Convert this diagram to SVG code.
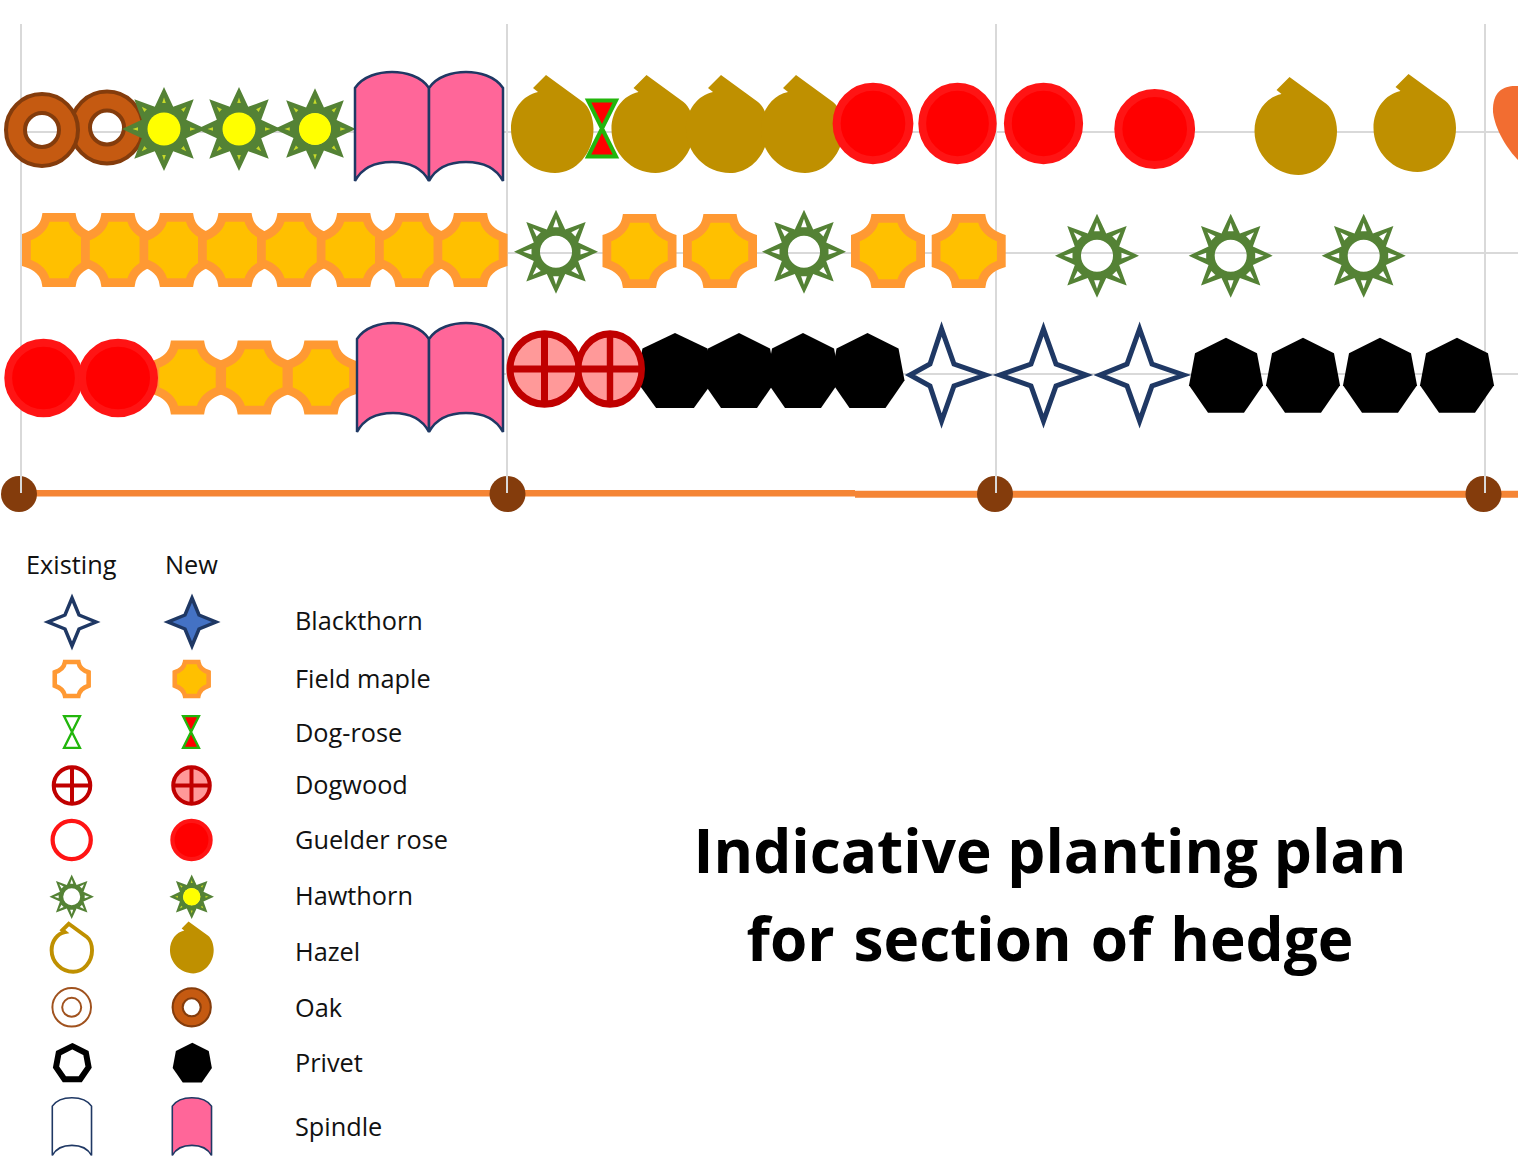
<svg xmlns="http://www.w3.org/2000/svg" width="1518" height="1162" viewBox="0 0 1518 1162">
<style>
.grid{stroke:#D9D9D9;stroke-width:2;fill:none}
.fence{stroke:#F58535;fill:none}
.post{fill:#843C0C}
.t{font-family:"Open Sans","Noto Sans","Liberation Sans",sans-serif;font-size:25.3px;fill:#111}
.title{font-family:"Open Sans","Noto Sans","Liberation Sans",sans-serif;font-size:60.3px;font-weight:700;fill:#000;text-anchor:middle}
.maple{stroke:#FF9933;stroke-width:8.8;stroke-miterlimit:10}
.mn{fill:#FFC000}.me{fill:none}
.spin{stroke:#1F3864;stroke-width:2.5;stroke-linejoin:miter}
.sn{fill:#FF6699}.se{fill:#fff}
.rose{stroke:#22B60C;stroke-width:4;stroke-miterlimit:10}
.rn{fill:#FF0000}.re{fill:none}
.wood{stroke:#C00000;stroke-width:7}
.wn{fill:#FF9999}.we{fill:none}
.guel{stroke:#FF1414;stroke-width:8}
.gn{fill:#FF0000}.ge{fill:none}
.hazn{fill:#BF9000}.haze{fill:none;stroke:#BF9000;stroke-width:8}
.oak{fill:#C55A11;stroke:#843C0C;stroke-width:4;fill-rule:evenodd}
.pn{fill:#000}.pe{fill:none;stroke:#000;stroke-width:13.5}
.blk{stroke:#1F3864;stroke-width:5;fill:none;stroke-miterlimit:10}
.blkn{fill:#4472C4}
.haw{fill:#548235;fill-rule:evenodd}
</style>
<defs>
<path id="maple" d="M-12.9,-32.6H12.9C15,-21 23,-16 32.6,-12.9V12.9C23,16 15,21 12.9,32.6H-12.9C-15,21 -23,16 -32.6,12.9V-12.9C-23,-16 -15,-21 -12.9,-32.6Z"/>
<path id="spindle" d="M0,16C8,4 24,0 37,0C50,0 66,4 74,16L74,109C66,94 50,90 37,90C24,90 8,94 0,109Z"/>
<path id="hourglass" d="M-14,-28H14L-14,28H14Z"/>
<g id="dogwood"><circle r="34.5"/><path d="M-34,0H34M0,-34V34" fill="none"/></g>
<circle id="guelder" r="36"/>
<path id="hazel" d="M-6,-57L31,-30C37,-25.6 41.5,-14 41.5,-3C41.5,21 24,41 3,41C-21,41 -41,21 -41,-3C-41,-22 -29,-37 -14,-40L-19,-44Z"/>
<path id="oakring" d="M-36,0A36,36 0 1 0 36,0A36,36 0 1 0 -36,0ZM-17,0A17,17 0 1 0 17,0A17,17 0 1 0 -17,0Z"/>
<path id="heptagon" d="M0,-37.5L31,-22L37,10L18,37.5L-18,37.5L-37,10L-31,-22Z"/>
<path id="star4" d="M0,-24L7,-7L24,0L7,7L0,24L-7,7L-24,0L-7,-7Z"/>
<path id="star8" d="M0,-42L9.2,-22.2L29.7,-29.7L22.2,-9.2L42,0L22.2,9.2L29.7,29.7L9.2,22.2L0,42L-9.2,22.2L-29.7,29.7L-22.2,9.2L-42,0L-22.2,-9.2L-29.7,-29.7L-9.2,-22.2ZM-16,0A16,16 0 1 0 16,0A16,16 0 1 0 -16,0Z"/>
<path id="triE" d="M0,-33L2.9,-24.5L-2.9,-24.5Z"/>
<path id="triN" d="M0,-31.5L1.8,-26L-1.8,-26Z"/>
<g id="hawE"><use href="#star8" class="haw"/><g fill="#fff"><use href="#triE"/><use href="#triE" transform="rotate(45)"/><use href="#triE" transform="rotate(90)"/><use href="#triE" transform="rotate(135)"/><use href="#triE" transform="rotate(180)"/><use href="#triE" transform="rotate(225)"/><use href="#triE" transform="rotate(270)"/><use href="#triE" transform="rotate(315)"/></g></g>
<g id="hawN"><use href="#star8" class="haw"/><circle r="16.5" fill="#FFFF00"/><g fill="#C6D92A"><use href="#triN"/><use href="#triN" transform="rotate(45)"/><use href="#triN" transform="rotate(90)"/><use href="#triN" transform="rotate(135)"/><use href="#triN" transform="rotate(180)"/><use href="#triN" transform="rotate(225)"/><use href="#triN" transform="rotate(270)"/><use href="#triN" transform="rotate(315)"/></g></g>
</defs>
<rect width="1518" height="1162" fill="#fff"/>

<g id="connectors">
<path class="fence" stroke-width="6.5" d="M19,493.3H855"/>
<path class="fence" stroke-width="7" d="M855,494.3H1518"/>
<circle class="post" cx="19" cy="494" r="18"/>
<circle class="post" cx="507.5" cy="494" r="18"/>
<circle class="post" cx="995" cy="494" r="18"/>
<circle class="post" cx="1483.5" cy="494" r="18"/>
<path class="grid" d="M21,24V493M507,24V493M996,24V493M1485,24V493"/>
<path class="grid" d="M21,132H1518M21,253H1518M21,374H1518"/>
</g>

<g id="row1">
<use href="#oakring" class="oak" transform="translate(107,127.5)"/>
<use href="#oakring" class="oak" transform="translate(42,130)"/>
<use href="#hawN" transform="translate(164,129)"/>
<use href="#hawN" transform="translate(239,129)"/>
<use href="#hawN" transform="translate(315,129) scale(.97)"/>
<use href="#spindle" class="spin sn" transform="translate(355,72)"/>
<use href="#spindle" class="spin sn" transform="translate(429,72)"/>
<use href="#hazel" class="hazn" transform="translate(552,132)"/>
<use href="#hazel" class="hazn" transform="translate(652.5,132)"/>
<use href="#hazel" class="hazn" transform="translate(727,132)"/>
<use href="#hazel" class="hazn" transform="translate(802,132)"/>
<use href="#hourglass" class="rose rn" transform="translate(602,128.5)"/>
<use href="#guelder" class="guel gn" transform="translate(873,123.5) scale(1.01,1.02)"/>
<use href="#guelder" class="guel gn" transform="translate(957.5,123.5) scale(.98,1.02)"/>
<use href="#guelder" class="guel gn" transform="translate(1043.5,123.5) scale(.99,1.02)"/>
<use href="#guelder" class="guel gn" transform="translate(1154.7,129) scale(1.01,1)"/>
<use href="#hazel" class="hazn" transform="translate(1295.5,134)"/>
<use href="#hazel" class="hazn" transform="translate(1414.5,131)"/>
<path id="next-shrub" d="M1518,86C1505,85 1492,90 1493,112C1495,130 1508,150 1518,160Z" fill="#F26D31"/>
</g>

<g id="row2">
<use href="#maple" class="maple mn" transform="translate(59,250)"/>
<use href="#maple" class="maple mn" transform="translate(118,250)"/>
<use href="#maple" class="maple mn" transform="translate(176.5,250)"/>
<use href="#maple" class="maple mn" transform="translate(235,250)"/>
<use href="#maple" class="maple mn" transform="translate(294,250)"/>
<use href="#maple" class="maple mn" transform="translate(353.7,250)"/>
<use href="#maple" class="maple mn" transform="translate(412,250)"/>
<use href="#maple" class="maple mn" transform="translate(470.5,250)"/>
<use href="#hawE" transform="translate(556,251.7)"/>
<use href="#maple" class="maple mn" transform="translate(639.5,251)"/>
<use href="#maple" class="maple mn" transform="translate(720,251)"/>
<use href="#hawE" transform="translate(804,251.7)"/>
<use href="#maple" class="maple mn" transform="translate(888,251)"/>
<use href="#maple" class="maple mn" transform="translate(968.7,251)"/>
<use href="#hawE" transform="translate(1097,255.7)"/>
<use href="#hawE" transform="translate(1230.7,255.7)"/>
<use href="#hawE" transform="translate(1363.7,255.7)"/>
</g>

<g id="row3">
<use href="#maple" class="maple mn" transform="translate(187.5,377.5)"/>
<use href="#maple" class="maple mn" transform="translate(254.3,377.5)"/>
<use href="#maple" class="maple mn" transform="translate(321,377.5)"/>
<use href="#guelder" class="guel gn" transform="translate(43.5,378) scale(.98)"/>
<use href="#guelder" class="guel gn" transform="translate(118,378) scale(1,.98)"/>
<use href="#spindle" class="spin sn" transform="translate(357,323) scale(.973,1)"/>
<use href="#spindle" class="spin sn" transform="translate(429,323)"/>
<use href="#heptagon" class="pn" transform="translate(675,370.5) scale(1.05,1)"/>
<use href="#heptagon" class="pn" transform="translate(739,370.5)"/>
<use href="#heptagon" class="pn" transform="translate(803,370.5)"/>
<use href="#heptagon" class="pn" transform="translate(867.5,370.5)"/>
<use href="#dogwood" class="wood wn" transform="translate(544.5,369) scale(1,1.02)"/>
<use href="#dogwood" class="wood wn" transform="translate(610,369) scale(.92,1.02)"/>
<path class="blk" d="M941.6,329L954,364L985.5,375L954,386L941.6,421L930,386L910,375L930,364Z"/>
<path class="blk" d="M1043.5,329L1056,364L1086,375L1056,386L1043.5,421L1031,386L1000,375L1031,364Z"/>
<path class="blk" d="M1139.6,329L1152,364L1183.6,375L1152,386L1139.6,421L1127,386L1100,375L1127,364Z"/>
<use href="#heptagon" class="pn" transform="translate(1226,375.2)"/>
<use href="#heptagon" class="pn" transform="translate(1303,375.2)"/>
<use href="#heptagon" class="pn" transform="translate(1380,375.2)"/>
<use href="#heptagon" class="pn" transform="translate(1457,375.2)"/>
</g>

<g id="legend-header">
<text class="t" x="26" y="574">Existing</text>
<text class="t" x="165" y="574">New</text>
</g>
<g id="legend-blackthorn">
<use href="#star4" class="blk" style="stroke-width:3.5" transform="translate(72,622)"/>
<use href="#star4" class="blk blkn" style="stroke-width:3.5" transform="translate(192,622)"/>
<text class="t" x="295" y="630">Blackthorn</text>
</g>
<g id="legend-field-maple">
<use href="#maple" class="maple me" transform="translate(71.7,679) scale(.52)"/>
<use href="#maple" class="maple mn" transform="translate(191.7,679) scale(.52)"/>
<text class="t" x="295" y="688">Field maple</text>
</g>
<g id="legend-dog-rose">
<use href="#hourglass" class="rose re" transform="translate(72,732) scale(.57)"/>
<use href="#hourglass" class="rose rn" transform="translate(191,732) scale(.57)"/>
<text class="t" x="295" y="742">Dog-rose</text>
</g>
<g id="legend-dogwood">
<use href="#dogwood" class="wood we" style="stroke-width:7.5" transform="translate(72,785.5) scale(.53)"/>
<use href="#dogwood" class="wood wn" style="stroke-width:7.5" transform="translate(191.5,785.5) scale(.53)"/>
<text class="t" x="295" y="794">Dogwood</text>
</g>
<g id="legend-guelder-rose">
<use href="#guelder" class="guel ge" transform="translate(71.7,840) scale(.53)"/>
<use href="#guelder" class="guel gn" transform="translate(191.5,840) scale(.53)"/>
<text class="t" x="295" y="849">Guelder rose</text>
</g>
<g id="legend-hawthorn">
<use href="#hawE" transform="translate(71.7,896.7) scale(.53)"/>
<use href="#hawN" transform="translate(191.7,896.7) scale(.53)"/>
<text class="t" x="295" y="905">Hawthorn</text>
</g>
<g id="legend-hazel">
<use href="#hazel" class="haze" transform="translate(71.7,951.7) scale(.49)"/>
<use href="#hazel" class="hazn" transform="translate(191.7,951.7) scale(.53)"/>
<text class="t" x="295" y="961">Hazel</text>
</g>
<g id="legend-oak">
<circle cx="71.7" cy="1007.3" r="19.3" fill="none" stroke="#A0521E" stroke-width="2"/>
<circle cx="71.7" cy="1007.3" r="9.5" fill="none" stroke="#A0521E" stroke-width="2"/>
<use href="#oakring" class="oak" transform="translate(191.7,1007.3) scale(.53)"/>
<text class="t" x="295" y="1017">Oak</text>
</g>
<g id="legend-privet">
<use href="#heptagon" class="pe" transform="translate(72.3,1062.7) scale(.44)"/>
<use href="#heptagon" class="pn" transform="translate(192.3,1062.7) scale(.53)"/>
<text class="t" x="295" y="1072">Privet</text>
</g>
<g id="legend-spindle">
<use href="#spindle" class="spin se" style="stroke-width:3" transform="translate(52.3,1097.7) scale(.53)"/>
<use href="#spindle" class="spin sn" style="stroke-width:3" transform="translate(172.3,1097.7) scale(.53)"/>
<text class="t" x="295" y="1136">Spindle</text>
</g>
<g id="title">
<text class="title" x="1050" y="873">Indicative planting plan</text>
<text class="title" x="1050" y="961" word-spacing="3.3">for section of hedge</text>
</g>
</svg>
